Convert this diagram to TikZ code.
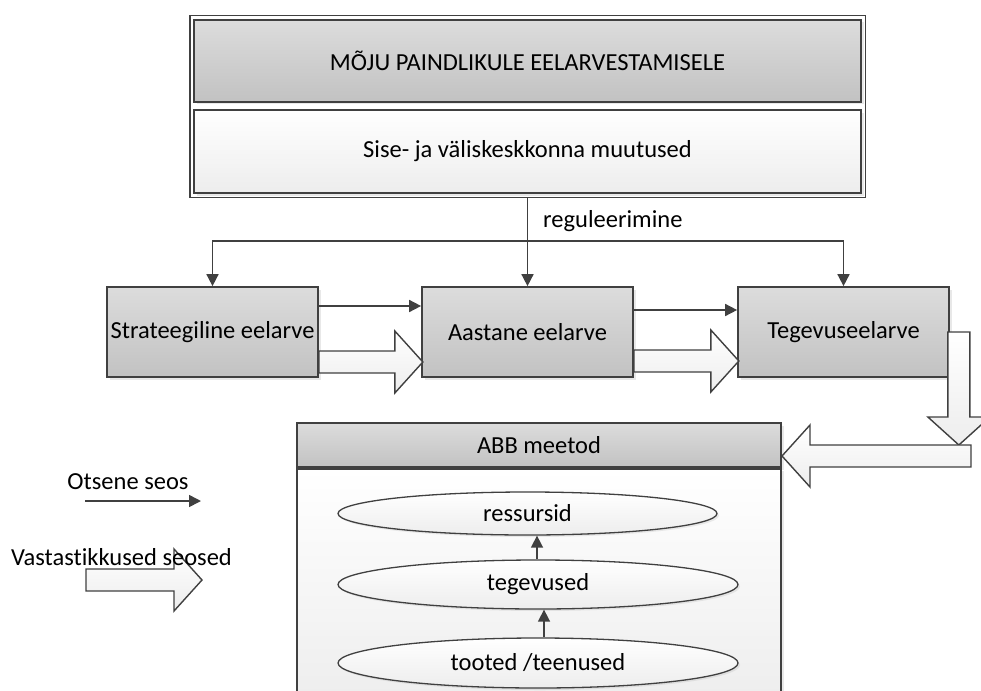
\documentclass[tikz,border=0pt]{standalone}
\usepackage{fontspec}
\setmainfont[Ligatures=NoCommon]{Carlito}
\usetikzlibrary{arrows.meta,positioning,fit,shapes.geometric,shadows}

\definecolor{linegray}{HTML}{404040}
\definecolor{boxtop}{HTML}{DCDCDC}
\definecolor{boxbottom}{HTML}{C2C2C2}
\definecolor{palebottom}{HTML}{EDEDED}

\tikzset{
  graybox/.style={rectangle,draw=linegray,line width=1.7pt,inner sep=0pt,
    top color=boxtop,bottom color=boxbottom,
    drop shadow={opacity=0.18,shadow xshift=2.5pt,shadow yshift=-2.5pt}},
  palebox/.style={graybox,top color=white,bottom color=palebottom},
  oval/.style={ellipse,draw=linegray,line width=1.3pt,inner sep=0pt,
    top color=white,bottom color=palebottom,
    drop shadow={opacity=0.15,shadow xshift=2pt,shadow yshift=-2pt}},
  link/.style={draw=linegray,line width=1.6pt,-{Triangle[length=12pt,width=12pt]}},
  fatline/.style={draw=linegray,line width=1.4pt,line join=miter,
    top color=white,bottom color=palebottom},
  fatarrow/.pic={
    \path[fatline] (0,-11) -- (#1-28,-11) -- (#1-28,-31) -- (#1,0)
      -- (#1-28,31) -- (#1-28,11) -- (0,11) -- cycle;
  }
}

\begin{document}
\begin{tikzpicture}
  [x=1pt,y=-1pt,every node/.style={font=\fontsize{24.5}{29}\selectfont}]
  \useasboundingbox (0,0) rectangle (981,690);
  \clip (0,0) rectangle (981,690);

  % impact block
  \node[graybox,minimum width=667pt,minimum height=82pt] (impact) at (527.5,61) {MÕJU PAINDLIKULE EELARVESTAMISELE};
  \node[palebox,minimum width=667pt,minimum height=83pt] (environment) at (527.5,151.5) {Sise- ja väliskeskkonna muutused};
  \node[draw=linegray,line width=1.7pt,inner sep=3.5pt,fit=(impact)(environment)] (frame) {};

  % budgets
  \node[graybox,minimum width=211pt,minimum height=90pt] (strategic) at (212.5,332) {Strateegiline eelarve};
  \node[graybox,minimum width=211pt,minimum height=90pt] (annual)    at (527.5,332) {Aastane eelarve};
  \node[graybox,minimum width=211pt,minimum height=90pt] (activity)  at (843.5,332) {Tegevuseelarve};

  % regulation
  \coordinate (split) at (527.5,241);
  \draw[linegray,line width=1.6pt] (frame.south) -- (split);
  \draw[link] (split) -- (annual.north);
  \draw[link] (split) -| (strategic.north);
  \draw[link] (split) -| (activity.north);
  \node[anchor=west,inner sep=0pt] (regulation) at (543,221) {reguleerimine};

  \draw[link] ([yshift=26pt]strategic.east) -- ([yshift=26pt]annual.west);
  \draw[link] ([yshift=22pt]annual.east) -- ([yshift=22pt]activity.west);
  \pic at ([yshift=-30pt]strategic.east) {fatarrow=104};
  \pic at ([yshift=-29pt]annual.east) {fatarrow=105};

  % ABB method
  \node[graybox,minimum width=484pt,minimum height=44pt] (abbhead) at (539,445) {ABB meetod};
  \node[palebox,minimum width=484pt,minimum height=240pt,below=0pt of abbhead] (abbbody) {};
  \node[oval,minimum width=379pt,minimum height=43pt] (resources)  at (527.5,513.5) {ressursid};
  \node[oval,minimum width=400pt,minimum height=49pt] (activities) at (538,584.5) {tegevused};
  \node[oval,minimum width=400pt,minimum height=50pt] (products)   at (538,663) {tooted /teenused};
  \draw[link] ([xshift=-1pt]activities.north) -- ([xshift=-1pt]activities.north |- resources.south);
  \draw[link] ([xshift=6pt]products.north) -- ([xshift=6pt]products.north |- activities.south);

  \pic[rotate=-90] at ([xshift=9pt]activity.east) {fatarrow=113};
  \coordinate (feedstart) at (971,456);
  \pic[rotate=180] at (feedstart) {fatarrow=189};

  % legend
  \node (directlabel) at (128,482) {Otsene seos};
  \coordinate (directstart) at (85,501);
  \coordinate (directend) at (201,501);
  \draw[link] (directstart) -- (directend);
  \pic at (86,580) {fatarrow=116};
  \node (mutuallabel) at (121.5,557) {Vastastikkused seosed};
\end{tikzpicture}
\end{document}
